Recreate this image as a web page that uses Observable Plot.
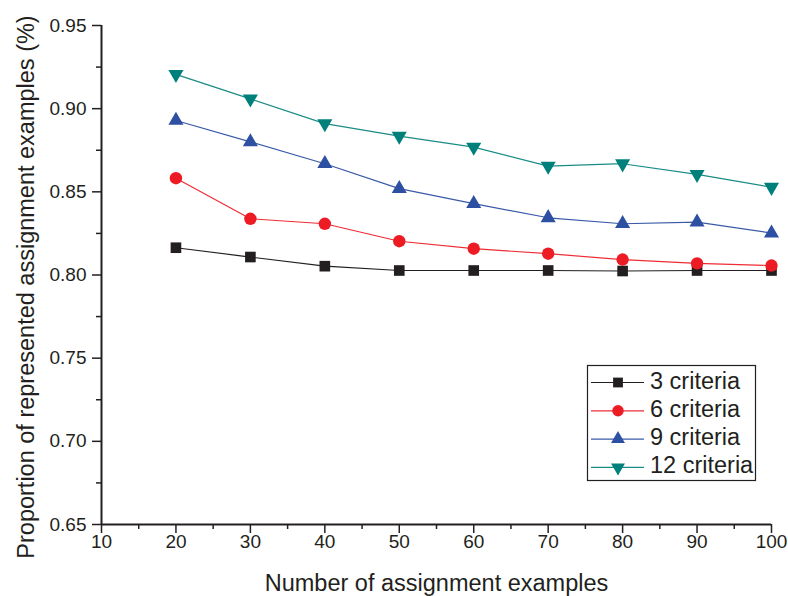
<!DOCTYPE html>
<html>
<head>
<meta charset="utf-8">
<script src="https://cdn.jsdelivr.net/npm/d3@7"></script>
<script src="https://cdn.jsdelivr.net/npm/@observablehq/plot@0.6"></script>
<style>
  body { margin: 0; background: #fff; }
  #chart { width: 788px; height: 596px; }
</style>
</head>
<body>
<div id="chart"></div>
<script>
// ---- data ----
const examples = [20, 30, 40, 50, 60, 70, 80, 90, 100];
const criteria3 = [0.8164, 0.8108, 0.8053, 0.8027, 0.8027, 0.8027, 0.8024, 0.8027, 0.8027];
const criteria6 = [0.8582, 0.8338, 0.8308, 0.8203, 0.8158, 0.8128, 0.8093, 0.8070, 0.8057];
const criteria9 = [0.8929, 0.8800, 0.8669, 0.8519, 0.8429, 0.8344, 0.8308, 0.8318, 0.8252];
const criteria12 = [0.9206, 0.9059, 0.8910, 0.8835, 0.8769, 0.8655, 0.8669, 0.8605, 0.8528];
const seriesNames = ["3 criteria", "6 criteria", "9 criteria", "12 criteria"];
const xTicks = [10, 20, 30, 40, 50, 60, 70, 80, 90, 100];
const xMinorTicks = [15, 25, 35, 45, 55, 65, 75, 85, 95];
const yTicks = [0.65, 0.70, 0.75, 0.80, 0.85, 0.90, 0.95];
const yMinorTicks = [0.675, 0.725, 0.775, 0.825, 0.875, 0.925];
const xTitle = "Number of assignment examples";
const yTitle = "Proportion of represented assignment examples (%)";

// ---- styles ----
const FONT = "'Liberation Sans', Arial, Helvetica, sans-serif";
const INK = "#231f20";
const symbolTriangleDown = {
  draw(context, size) {
    const y = -Math.sqrt(size / (Math.sqrt(3) * 3));
    context.moveTo(0, -2 * y);
    context.lineTo(-Math.sqrt(3) * y, y);
    context.lineTo(Math.sqrt(3) * y, y);
    context.closePath();
  }
};
const seriesStyle = [
  {values: criteria3, fill: "#231f20", line: "#231f20", symbol: d3.symbolSquare, r: 6.0},
  {values: criteria6, fill: "#ed1c24", line: "#ee2c34", symbol: d3.symbolCircle, r: 6.2},
  {values: criteria9, fill: "#2e50a2", line: "#3a5aa8", symbol: d3.symbolTriangle, r: 5.6},
  {values: criteria12, fill: "#00807a", line: "#1a8c86", symbol: symbolTriangleDown, r: 5.6}
];
const series = seriesStyle.map((s, i) => ({...s, name: seriesNames[i],
  rows: examples.map((x, j) => ({series: seriesNames[i], x, y: s.values[j]}))}));

const marks = [
  Plot.axisX(xMinorTicks, {tickSize: 5, tickFormat: () => "", label: null, strokeWidth: 1.5}),
  Plot.axisX(xTicks, {tickSize: 9, tickPadding: 1, label: null, fontSize: 19, strokeWidth: 1.5}),
  Plot.axisY(yMinorTicks, {tickSize: 5, tickFormat: () => "", label: null, strokeWidth: 1.5}),
  Plot.axisY(yTicks, {tickSize: 9, tickPadding: 6, label: null, fontSize: 19, strokeWidth: 1.5,
    tickFormat: d => d.toFixed(2)}),
  Plot.ruleX([10], {stroke: INK, strokeWidth: 2}),
  Plot.ruleY([0.65], {stroke: INK, strokeWidth: 2}),
  ...series.map(s => Plot.line(s.rows, {x: "x", y: "y", stroke: s.line, strokeWidth: 1.2})),
  ...series.map(s => Plot.dot(s.rows, {x: "x", y: "y", symbol: s.symbol, r: s.r, fill: s.fill, stroke: "none"})),
  Plot.text([xTitle], {text: d => d, frameAnchor: "bottom", textAnchor: "middle", dy: 66, lineAnchor: "bottom", fontSize: 23.5, fill: INK}),
  Plot.text([yTitle], {text: d => d, frameAnchor: "left", textAnchor: "middle", rotate: -90, dx: -68, dy: 12, lineAnchor: "bottom", fontSize: 23.5, fill: INK})
];

const plot = Plot.plot({
  width: 788,
  height: 596,
  marginLeft: 101,
  marginRight: 17,
  marginTop: 25,
  marginBottom: 72,
  x: {domain: [10, 100], label: null},
  y: {domain: [0.65, 0.95], label: null},
  style: {fontFamily: FONT, fontSize: "19px", color: INK, background: "#fff", overflow: "visible"},
  marks
});

// ---- legend ----
const svg = d3.select(plot);
const lg = svg.append("g");
lg.append("rect")
  .attr("x", 587.5).attr("y", 365.5).attr("width", 168).attr("height", 115)
  .attr("fill", "#fff").attr("stroke", INK).attr("stroke-width", 1.2);
series.forEach((s, i) => {
  const cy = 382.5 + i * 28.3;
  lg.append("line").attr("x1", 591).attr("x2", 644).attr("y1", cy).attr("y2", cy)
    .attr("stroke", s.line).attr("stroke-width", 1.2);
  lg.append("path").attr("transform", `translate(618,${cy})`)
    .attr("d", d3.symbol(s.symbol, Math.PI * s.r * s.r * 0.85)())
    .attr("fill", s.fill);
  lg.append("text").attr("x", 650).attr("y", cy + 6)
    .attr("text-anchor", "start")
    .attr("font-size", 23.5).attr("font-family", FONT).attr("fill", INK)
    .text(s.name);
});

document.getElementById("chart").append(plot);
</script>
</body>
</html>
